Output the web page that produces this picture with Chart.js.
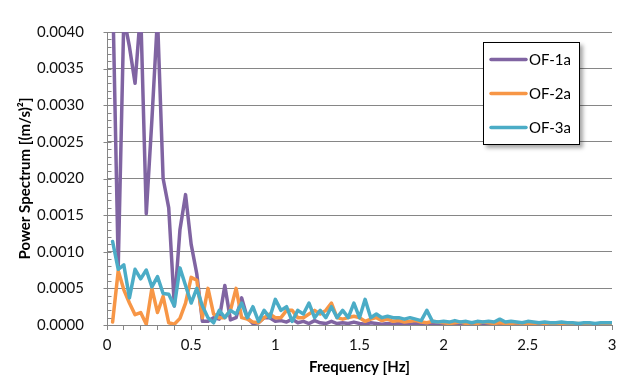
<!DOCTYPE html>
<html><head><meta charset="utf-8">
<script src="https://cdn.jsdelivr.net/npm/chart.js@4.4.1/dist/chart.umd.min.js"></script>
<style>html,body{margin:0;padding:0;background:#fff;}#wrap{width:629px;height:381px;}</style>
</head><body><div id="wrap"><canvas id="c" width="629" height="381"></canvas></div>
<script>
const frequencies = [0.0333,0.0667,0.1,0.1333,0.1667,0.2,0.2333,0.2667,0.3,0.3333,0.3667,0.4,0.4333,0.4667,0.5,0.5333,0.5667,0.6,0.6333,0.6667,0.7,0.7333,0.7667,0.8,0.8333,0.8667,0.9,0.9333,0.9667,1.0,1.0333,1.0667,1.1,1.1333,1.1667,1.2,1.2333,1.2667,1.3,1.3333,1.3667,1.4,1.4333,1.4667,1.5,1.5333,1.5667,1.6,1.6333,1.6667,1.7,1.7333,1.7667,1.8,1.8333,1.8667,1.9,1.9333,1.9667,2.0,2.0333,2.0667,2.1,2.1333,2.1667,2.2,2.2333,2.2667,2.3,2.3333,2.3667,2.4,2.4333,2.4667,2.5,2.5333,2.5667,2.6,2.6333,2.6667,2.7,2.7333,2.7667,2.8,2.8333,2.8667,2.9,2.9333,2.9667,3.0];
const of1a = [0.0046,0.0008,0.0042,0.0038,0.0033,0.0043,0.00152,0.0028,0.0042,0.0020,0.0016,0.00026,0.0013,0.00178,0.0011,0.0007,0.00005,0.00005,0.0001,0.00008,0.00054,0.00007,0.0001,0.00037,0.0001,0.00002,0.00003,0.0001,0.0001,0.00005,0.00006,0.00004,0.00008,0.00003,0.00005,0.00002,0.00006,0.00003,0.00002,0.00005,0.00002,0.00003,0.00002,0.00004,0.00002,0.00001,0.00003,0.00002,0.00001,0.00002,0.00001,0.00002,0.00001,0.00001,0.00002,0.00001,0.00001,0.00001,0.00002,0.00001,0.00001,0.00001,0.00001,0.00001,0.00001,0.00001,0.00001,0.00001,0.00001,0.00001,0.00001,0.00001,0.00001,0.00001,0.00001,0.00001,0.00001,0.00001,0.00001,0.00001,0.00001,0.00001,0.00001,0.00001,0.00001,0.00001,0.00001,0.00001,0.00001,0.00001];
const of2a = [0.00004,0.00074,0.00048,0.0003,0.00014,0.00017,0.00001,0.0005,0.00017,0.00039,0.00003,0.00001,0.00009,0.0003,0.00065,0.00061,0.0001,0.0005,0.00015,0.0001,0.0001,0.0002,0.0005,0.0001,0.00008,0.00004,0.00003,0.0001,0.00015,0.0001,0.0001,0.0002,0.0002,0.0001,0.0001,0.00015,0.0002,0.00015,0.0002,0.0003,0.0001,0.00008,0.0001,0.00012,0.0001,0.00005,0.00008,0.0001,0.00006,0.00008,0.00005,0.00006,0.00004,0.00005,0.00006,0.00004,0.00003,0.00005,0.00004,0.00003,0.00002,0.00003,0.00004,0.00002,0.00003,0.00002,0.00004,0.00003,0.00002,0.00003,0.00002,0.00002,0.00003,0.00002,0.00002,0.00002,0.00003,0.00002,0.00002,0.00002,0.00002,0.00001,0.00002,0.00002,0.00001,0.00002,0.00001,0.00002,0.00001,0.00001];
const of3a = [0.00114,0.00076,0.00082,0.00037,0.00076,0.00063,0.00075,0.00052,0.00066,0.00043,0.00042,0.00026,0.00078,0.00054,0.0003,0.0005,0.00026,0.0001,0.00003,0.0002,0.0001,0.0002,0.00015,0.0003,0.0001,0.00025,0.00005,0.0002,0.0001,0.00035,0.0002,0.00025,0.00005,0.0002,0.00015,0.0003,0.0001,0.0002,0.0001,0.00025,0.0001,0.0002,0.0001,0.0003,0.0001,0.00035,0.0001,0.00015,0.0001,0.00012,0.0001,0.0001,0.00008,0.0001,0.00008,0.00006,0.0002,0.00005,0.00004,0.00005,0.00004,0.00006,0.00004,0.00005,0.00003,0.00005,0.00004,0.00005,0.00004,0.00008,0.00004,0.00005,0.00004,0.00003,0.00005,0.00004,0.00003,0.00004,0.00003,0.00003,0.00004,0.00003,0.00003,0.00002,0.00003,0.00003,0.00002,0.00003,0.00003,0.00003];
const seriesNames = ['OF-1a','OF-2a','OF-3a'];
const seriesColors = ['#8064A2','#F79646','#4BACC6'];
const xTickLabels = ['0','0.5','1','1.5','2','2.5','3'];
const yTickLabels = ['0.0000','0.0005','0.0010','0.0015','0.0020','0.0025','0.0030','0.0035','0.0040'];
const xTitle = 'Frequency [Hz]';
const yTitle = 'Power Spectrum [(m/s)²]';

const FONT = 'Lato, "Open Sans", sans-serif';
const GRID = '#868686';

const legendBox = {
  id: 'legendBox',
  afterDatasetsDraw(chart) {
    const ctx = chart.ctx;
    const x = 483, y = 42, w = 97, h = 103;
    ctx.save();
    ctx.shadowColor = 'rgba(0,0,0,0.35)';
    ctx.shadowBlur = 4; ctx.shadowOffsetX = 3; ctx.shadowOffsetY = 3;
    ctx.fillStyle = '#fff';
    ctx.fillRect(x, y, w, h);
    ctx.shadowColor = 'transparent'; ctx.shadowBlur = 0; ctx.shadowOffsetX = 0; ctx.shadowOffsetY = 0;
    ctx.strokeStyle = '#000'; ctx.lineWidth = 1;
    ctx.strokeRect(x + 0.5, y + 0.5, w - 1, h - 1);
    chart.data.datasets.forEach((ds, i) => {
      const ly = 59.5 + i * 34;
      ctx.strokeStyle = ds.borderColor; ctx.lineWidth = 3.5; ctx.lineCap = 'round';
      ctx.beginPath(); ctx.moveTo(491, ly); ctx.lineTo(526, ly); ctx.stroke();
      ctx.fillStyle = '#000'; ctx.font = '15px ' + FONT; ctx.textBaseline = 'middle'; ctx.textAlign = 'left';
      ctx.fillText(ds.label, 529, ly + 1);
    });
    ctx.restore();
  }
};

const yMinorTicks = {
  id: 'yMinorTicks',
  afterDraw(chart) {
    const ys = chart.scales.y, ctx = chart.ctx;
    const left = Math.round(chart.chartArea.left) + 0.5;
    ctx.save(); ctx.strokeStyle = GRID; ctx.lineWidth = 1;
    ys.ticks.forEach(t => {
      const py = Math.round(ys.getPixelForValue(t.value)) + 0.5;
      const major = Math.round(t.value * 10000) % 5 === 0;
      ctx.beginPath(); ctx.moveTo(major ? left - 4 : left, py); ctx.lineTo(left + 4, py); ctx.stroke();
    });
    ctx.restore();
  }
};

const datasets = [of1a, of2a, of3a].map((arr, i) => ({
  label: seriesNames[i],
  data: frequencies.map((f, j) => ({x: f, y: arr[j]})),
  borderColor: seriesColors[i],
  backgroundColor: seriesColors[i],
  borderWidth: 3.5,
  pointRadius: 0,
  tension: 0,
  borderJoinStyle: 'round',
  borderCapStyle: 'round',
  clip: 0,
  order: 2 - i
}));

new Chart(document.getElementById('c'), {
  type: 'line',
  data: { datasets },
  plugins: [legendBox, yMinorTicks],
  options: {
    responsive: false, animation: false, devicePixelRatio: 1,
    layout: { padding: { left: 0, top: 18, right: 17, bottom: 0 } },
    plugins: { legend: { display: false }, tooltip: { enabled: false } },
    scales: {
      x: {
        type: 'linear', min: 0, max: 3,
        afterFit(s) { s.height = 56; },
        ticks: {
          stepSize: 0.1, autoSkip: false, maxRotation: 0, padding: 6,
          color: '#111', font: { family: FONT, size: 15 },
          callback(v) { const r = Math.round(v * 10); return r % 5 === 0 ? xTickLabels[r / 5] : ''; }
        },
        grid: { drawOnChartArea: false, drawTicks: true, tickLength: 5, color: GRID },
        border: { display: true, color: GRID, width: 1 },
        title: { display: true, text: xTitle, color: '#000', font: { family: FONT, size: 15, weight: 'bold' }, padding: { top: 0, bottom: 5 } }
      },
      y: {
        min: 0, max: 0.004,
        afterFit(s) { s.width = 107; },
        ticks: {
          stepSize: 0.0001, autoSkip: false, padding: 23,
          color: '#111', font: { family: FONT, size: 15 },
          callback(v) { const r = Math.round(v * 10000); return r % 5 === 0 ? yTickLabels[r / 5] : ''; }
        },
        grid: {
          drawTicks: false,
          color(c) { return (c.tick && Math.round(c.tick.value * 10000) % 5 === 0) ? GRID : 'rgba(0,0,0,0)'; }
        },
        border: { display: true, color: GRID, width: 1 },
        title: { display: true, text: yTitle, color: '#000', font: { family: FONT, size: 15, weight: 'bold' }, padding: { top: 16, bottom: 0 } }
      }
    }
  }
});
</script></body></html>
